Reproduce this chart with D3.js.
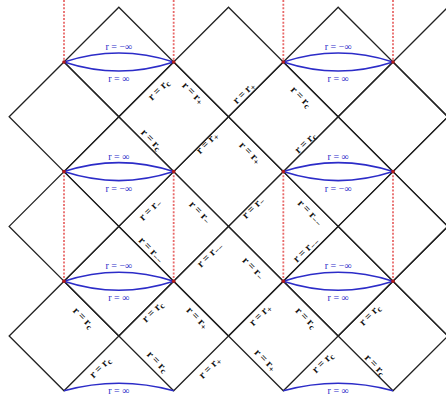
<!DOCTYPE html>
<html>
<head>
<meta charset="utf-8">
<script src="https://cdn.jsdelivr.net/npm/d3@7"></script>
<style>
  body { margin: 0; background: #fff; }
</style>
</head>
<body>
<svg id="chart"></svg>
<script>
// lattice coords: column i, row j (horizon crossings sit on the integer points)
const diamondRows = [1, 2, 3, 4, 5, 6];
const diamondCols = [[2, 4, 6, 8], [1, 3, 5, 7], [2, 4, 6, 8], [1, 3, 5, 7], [2, 4, 6, 8], [1, 3, 5, 7]];
const singularityCols = [1, 3, 5, 7];
const singularitySpans = [[-0.13, 1], [3, 5]];
const lensRows = [1, 3, 5];
const lensPairs = [[1, 3], [5, 7]];
const lensTop = ["r = −∞", "r = ∞", "r = −∞"];
const lensBottom = ["r = ∞", "r = −∞", "r = ∞"];
const bottomRow = 7;
const bottomLabel = "r = ∞";
// [i, j, angle, subscript]
const horizonLabels = [
  [2.73, 1.51, -45, "c"], [3.35, 1.57, 45, "+"], [2.59, 2.42, 45, "c"], [3.61, 2.48, -45, "+"],
  [4.28, 1.57, -45, "+"], [5.32, 1.64, 45, "c"], [4.39, 2.66, 45, "+"], [5.40, 2.48, -45, "c"],
  [2.57, 3.70, -45, "−"], [3.48, 3.74, 45, "−"], [2.59, 4.43, 45, "−−"], [3.66, 4.52, -45, "−−"],
  [4.45, 3.66, -45, "−"], [5.49, 3.75, 45, "−−"], [5.41, 4.43, -45, "−−"], [4.45, 4.76, 45, "−"],
  [1.35, 5.67, 45, "c"], [2.62, 5.56, -45, "c"], [3.43, 5.67, 45, "+"], [1.66, 6.58, -45, "c"],
  [2.70, 6.47, 45, "c"], [3.66, 6.58, -45, "+"], [4.58, 5.62, -45, "+"], [5.41, 5.67, 45, "c"],
  [6.58, 5.62, -45, "c"], [4.67, 6.44, 45, "+"], [5.72, 6.49, -45, "c"], [6.67, 6.53, 45, "c"]
];

const width = 446, height = 395;
const svg = d3.select("#chart").attr("width", width).attr("height", height);

const x = d3.scaleLinear().domain([1, 7]).range([64, 393]);
const y = d3.scaleLinear().domain([1, 7]).range([62, 390.8]);

// diamonds
const diamonds = [];
diamondRows.forEach((j, k) => diamondCols[k].forEach(i => diamonds.push([i, j])));
const line = d3.line().x(d => x(d[0])).y(d => y(d[1]));
svg.append("g").selectAll("path")
  .data(diamonds)
  .join("path")
  .attr("d", ([i, j]) => line([[i - 1, j], [i, j - 1], [i + 1, j], [i, j + 1]]) + "Z")
  .attr("fill", "none")
  .attr("stroke", "#222")
  .attr("stroke-width", 1.3);

// singularities (red dotted)
const sing = [];
singularityCols.forEach(i => singularitySpans.forEach(s => sing.push([i, s])));
svg.append("g").selectAll("line")
  .data(sing)
  .join("line")
  .attr("x1", d => x(d[0])).attr("x2", d => x(d[0]))
  .attr("y1", d => y(d[1][0])).attr("y2", d => y(d[1][1]))
  .attr("stroke", "#e86a6a")
  .attr("stroke-width", 1.8)
  .attr("stroke-dasharray", "2,1.6");

// lenses r = +-inf
const lenses = [];
lensRows.forEach((j, k) => lensPairs.forEach(p => lenses.push({ a: p[0], b: p[1], j, k })));
function arc(a, b, j, bulge) {
  const p = d3.path();
  p.moveTo(x(a), y(j));
  p.quadraticCurveTo((x(a) + x(b)) / 2, y(j) + bulge, x(b), y(j));
  return p.toString();
}
const lensG = svg.append("g");
lenses.forEach(l => {
  [-18, 18].forEach(bulge => {
    lensG.append("path")
      .attr("d", arc(l.a, l.b, l.j, bulge))
      .attr("fill", "none")
      .attr("stroke", "#2c2cc8")
      .attr("stroke-width", 1.6);
  });
  lensG.append("text")
    .attr("x", (x(l.a) + x(l.b)) / 2).attr("y", y(l.j) - 14)
    .text(lensTop[l.k]);
  lensG.append("text")
    .attr("x", (x(l.a) + x(l.b)) / 2).attr("y", y(l.j) + 18)
    .text(lensBottom[l.k]);
  [l.a, l.b].forEach(i => lensG.append("circle")
    .attr("cx", x(i)).attr("cy", y(l.j)).attr("r", 1.8).attr("fill", "#b01818"));
});
lensPairs.forEach(p => {
  lensG.append("path")
    .attr("d", arc(p[0], p[1], bottomRow, -15))
    .attr("fill", "none")
    .attr("stroke", "#2c2cc8")
    .attr("stroke-width", 1.6);
  lensG.append("text")
    .attr("x", (x(p[0]) + x(p[1])) / 2).attr("y", y(bottomRow) + 1)
    .text(bottomLabel);
});
lensG.selectAll("text")
  .attr("text-anchor", "middle")
  .attr("dominant-baseline", "middle")
  .attr("font-family", "Liberation Serif, serif")
  .attr("font-size", 10)
  .attr("fill", "#2c2cc8");

// horizon labels
const lab = svg.append("g").selectAll("text")
  .data(horizonLabels)
  .join("text")
  .attr("transform", d => `translate(${x(d[0])},${y(d[1])})rotate(${d[2]})`)
  .attr("y", 3)
  .attr("text-anchor", "middle")
  .attr("font-family", "Liberation Serif, serif")
  .attr("font-weight", "bold")
  .attr("font-size", 11)
  .attr("fill", "#111");
lab.append("tspan").text("r = r");
lab.append("tspan").attr("dy", 2).attr("font-size", 8.5).text(d => d[3]);
</script>
</body>
</html>
